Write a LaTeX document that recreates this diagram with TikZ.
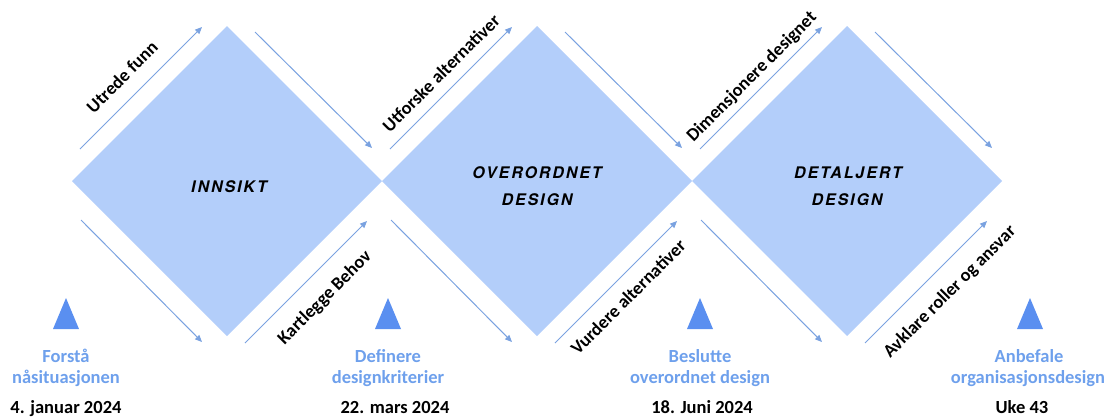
\documentclass[tikz,border=0pt]{standalone}
\usepackage{fontspec}
\setmainfont{Carlito}
\newfontfamily\markerfont[LetterSpace=12]{TeX Gyre Heros}
\usetikzlibrary{arrows.meta,shapes.geometric}
\definecolor{diamondfill}{RGB}{179,206,250}
\definecolor{flowline}{RGB}{122,162,224}
\definecolor{milestone}{RGB}{90,143,240}
\definecolor{milestonetext}{RGB}{110,160,236}

\begin{document}
\begin{tikzpicture}[x=1pt,y=-1pt,
  phase/.style={diamond, aspect=1, fill=diamondfill, draw=none,
    minimum size=310pt, inner sep=0pt, outer sep=0pt},
  flow/.style={draw=flowline, line width=1pt, -{Triangle[length=7pt,width=6pt]}},
  steplabel/.style={font=\bfseries\fontsize{18.3}{20}\selectfont, rotate=45, inner sep=0pt},
  phasename/.style={font=\markerfont\bfseries\itshape\fontsize{16}{18}\selectfont, inner sep=0pt},
  msname/.style={font=\bfseries\fontsize{18.5}{21}\selectfont, text=milestonetext,
    inner sep=0pt, anchor=base},
  msdate/.style={font=\bfseries\fontsize{18.5}{21}\selectfont, inner sep=0pt, anchor=base}]

\useasboundingbox (0,0) rectangle (1110,416);

% the three phases
\node[phase] (p1) at (227,181) {};
\node[phase] (p2) at (537,181) {};
\node[phase] (p3) at (847,181) {};

% flow arrows along the four sides of every phase
\foreach \n/\cx in {p1/227, p2/537, p3/847} {
  \coordinate (\n-ul-s) at (\cx-147,149);
  \coordinate (\n-ul-e) at (\cx-25,27);
  \coordinate (\n-ur-s) at (\cx+28,32);
  \coordinate (\n-ur-e) at (\cx+145,148);
  \coordinate (\n-ll-s) at (\cx-146,220);
  \coordinate (\n-ll-e) at (\cx-25,342);
  \coordinate (\n-lr-s) at (\cx+18,343);
  \coordinate (\n-lr-e) at (\cx+140,221);
  \draw[flow] (\n-ul-s) -- (\n-ul-e);
  \draw[flow] (\n-ur-s) -- (\n-ur-e);
  \draw[flow] (\n-ll-s) -- (\n-ll-e);
  \draw[flow] (\n-lr-s) -- (\n-lr-e);
}

% phase names
\node[phasename] (n1) at (229,187) {INNSIKT};
\node[phasename] (n2a) at (537,173) {OVERORDNET};
\node[phasename] (n2b) at (537,200) {DESIGN};
\node[phasename] (n3a) at (848,173) {DETALJERT};
\node[phasename] (n3b) at (847,200) {DESIGN};

% activities along the arrows
\node[steplabel] (s1) at (122,77) {Utrede funn};
\node[steplabel] (s2) at (325,298) {Kartlegge Behov};
\node[steplabel] (s3) at (441,73) {Utforske alternativer};
\node[steplabel] (s4) at (628,297) {Vurdere alternativer};
\node[steplabel] (s5) at (752,77) {Dimensjonere designet};
\node[steplabel] (s6) at (950,292) {Avklare roller og ansvar};

% milestones
\fill[milestone] (66,298) -- (79,329) -- (53,329) -- cycle;
\fill[milestone] (388,298) -- (401,329) -- (375,329) -- cycle;
\fill[milestone] (700,298) -- (713,329) -- (687,329) -- cycle;
\fill[milestone] (1030,298) -- (1043,329) -- (1017,329) -- cycle;

\node[msname] (m1a) at (66,362) {Forstå};
\node[msname] (m1b) at (66,383) {nåsituasjonen};
\node[msdate] (d1) at (66,413) {4. januar 2024};

\node[msname] (m2a) at (388,362) {Definere};
\node[msname] (m2b) at (388,383) {designkriterier};
\node[msdate] (d2) at (395,413) {22. mars 2024};

\node[msname] (m3a) at (700,362) {Beslutte};
\node[msname] (m3b) at (700,383) {overordnet design};
\node[msdate] (d3) at (702,413) {18. Juni 2024};

\node[msname] (m4a) at (1029,362) {Anbefale};
\node[msname] (m4b) at (1028,383) {organisasjonsdesign};
\node[msdate] (d4) at (1022,413) {Uke 43};
\end{tikzpicture}
\end{document}
